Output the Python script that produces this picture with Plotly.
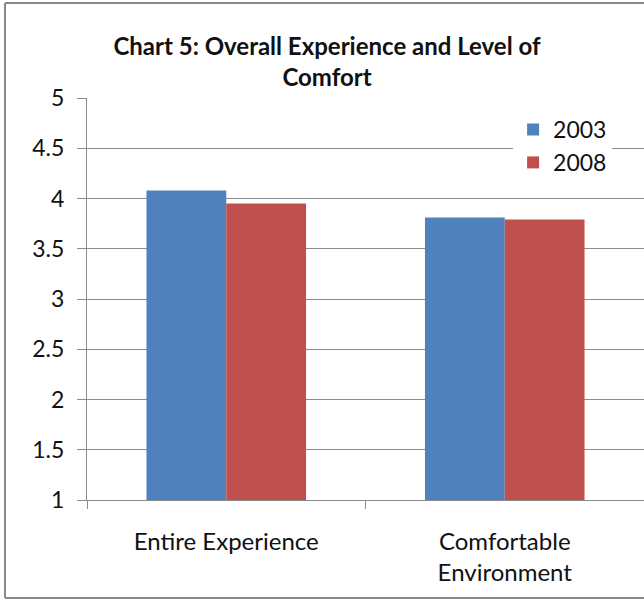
import plotly.graph_objects as go

# Survey ratings (1-5 scale) by topic and year
categories = ["Entire Experience", "Comfortable Environment"]
category_labels = ["Entire Experience", "Comfortable<br>Environment"]
years = ["2003", "2008"]
scores_2003 = [4.08, 3.81]
scores_2008 = [3.95, 3.79]
y_ticks = [1, 1.5, 2, 2.5, 3, 3.5, 4, 4.5, 5]
y_tick_labels = ["1", "1.5", "2", "2.5", "3", "3.5", "4", "4.5", "5"]

BLUE = "#4F81BD"
RED = "#C0504D"
GRID = "#8C8C8C"
TEXT = "#111111"
FONT = "Lato, 'Open Sans', sans-serif"

fig = go.Figure()
fig.add_trace(go.Bar(name=years[0], x=categories, y=scores_2003,
                     marker=dict(color=BLUE, line=dict(width=0))))
fig.add_trace(go.Bar(name=years[1], x=categories, y=scores_2008,
                     marker=dict(color=RED, line=dict(width=0))))

fig.update_layout(
    width=644, height=602,
    margin=dict(l=87, r=0, t=98, b=102),
    paper_bgcolor="white", plot_bgcolor="white",
    font=dict(family=FONT, size=23, color=TEXT),
    barmode="group", bargap=0.427, bargroupgap=0,
    title=dict(
        text="<b>Chart 5: Overall Experience and Level of<br>Comfort</b>",
        x=327 / 644, xanchor="center", xref="container",
        y=1 - 55 / 602, yanchor="top", yref="container",
        font=dict(family=FONT, size=24, color=TEXT),
    ),
    legend=dict(
        x=0.765, xanchor="left", y=0.975, yanchor="top",
        bgcolor="white", borderwidth=0,
        font=dict(family=FONT, size=23, color=TEXT),
        itemwidth=30, tracegroupgap=0,
    ),
    showlegend=True,
)

fig.update_xaxes(
    type="category", categoryorder="array", categoryarray=categories,
    tickvals=categories, ticktext=category_labels,
    showline=True, linecolor=GRID, linewidth=1,
    ticks="outside", tickson="boundaries", ticklen=8, tickcolor=GRID,
    ticklabelstandoff=20, showgrid=False,
    tickfont=dict(family=FONT, size=24, color=TEXT),
)
fig.update_yaxes(
    range=[1, 5], tickvals=y_ticks, ticktext=y_tick_labels,
    showline=True, linecolor=GRID, linewidth=1,
    showgrid=True, gridcolor=GRID, gridwidth=1,
    ticks="outside", ticklen=9, tickcolor=GRID, ticklabelstandoff=8,
    zeroline=False,
    tickfont=dict(family=FONT, size=23, color=TEXT),
)

# Chart frame border (left, top, bottom edges)
px_x = lambda p: (p - 87) / 557
px_y = lambda p: (500 - p) / 402
frame = dict(color="#8A8A8A", width=2)
fig.add_shape(type="line", xref="paper", yref="paper",
              x0=px_x(5), x1=px_x(5), y0=px_y(3), y1=px_y(598), line=frame)
fig.add_shape(type="line", xref="paper", yref="paper",
              x0=px_x(5), x1=px_x(660), y0=px_y(3), y1=px_y(3), line=frame)
fig.add_shape(type="line", xref="paper", yref="paper",
              x0=px_x(5), x1=px_x(660), y0=px_y(598), y1=px_y(598), line=frame)

fig.write_html("out.html")
